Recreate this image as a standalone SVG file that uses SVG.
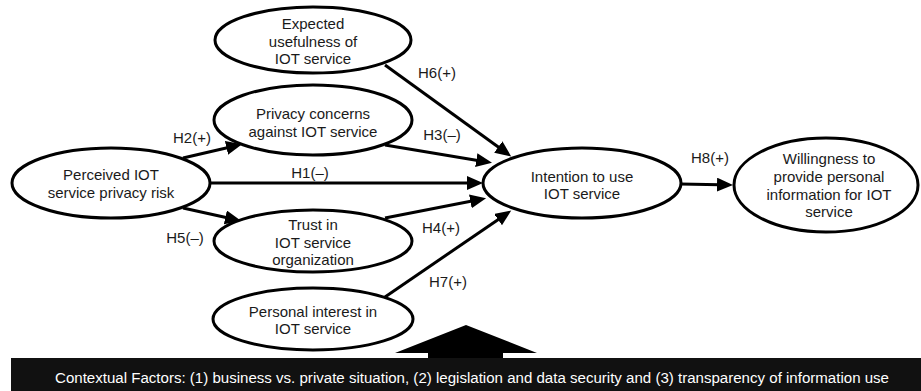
<svg xmlns="http://www.w3.org/2000/svg" width="921" height="391" viewBox="0 0 921 391">
<style>
.n ellipse{fill:#fff;stroke:#000;stroke-width:3}
text{font-family:"Liberation Sans",Arial,sans-serif;font-size:15px;fill:#1a1a1a;text-anchor:middle}
.c line{stroke:#000;stroke-width:3;marker-end:url(#ah)}
.ctx{fill:#fff;font-size:14px}
</style>
<defs>
<marker id="ah" markerUnits="userSpaceOnUse" markerWidth="17" markerHeight="15" refX="3" refY="7" orient="auto">
<path d="M0,0 L16,7 L0,14 z" fill="#000"/>
</marker>
</defs>
<rect width="921" height="391" fill="#fff"/>
<g class="c" id="connectors">
<line x1="385" y1="65" x2="500.7" y2="148.8"/>
<line x1="385" y1="145" x2="479.2" y2="160.7"/>
<line x1="210" y1="183" x2="470" y2="183"/>
<line x1="385" y1="218" x2="473.3" y2="200.7"/>
<line x1="385" y1="297" x2="500.5" y2="217.9"/>
<line x1="183" y1="158" x2="229.4" y2="147.2"/>
<line x1="183" y1="208" x2="228.3" y2="218"/>
<line x1="680" y1="184" x2="720" y2="184.7"/>
<text x="437" y="78">H6(+)</text>
<text x="442" y="140">H3(–)</text>
<text x="310" y="178">H1(–)</text>
<text x="192" y="143">H2(+)</text>
<text x="185" y="243">H5(–)</text>
<text x="441" y="233">H4(+)</text>
<text x="448" y="287">H7(+)</text>
<text x="710" y="163">H8(+)</text>
</g>
<g class="n" id="expected">
<ellipse cx="313" cy="40" rx="98" ry="33"/>
<text x="313" y="29">Expected</text>
<text x="313" y="47">usefulness of</text>
<text x="313" y="64">IOT service</text>
</g>
<g class="n" id="privacy">
<ellipse cx="313" cy="120" rx="99" ry="35"/>
<text x="313" y="119">Privacy concerns</text>
<text x="313" y="137">against IOT service</text>
</g>
<g class="n" id="perceived">
<ellipse cx="111" cy="183" rx="99" ry="35"/>
<text x="111" y="180">Perceived IOT</text>
<text x="111" y="198">service privacy risk</text>
</g>
<g class="n" id="trust">
<ellipse cx="313" cy="241" rx="99" ry="31"/>
<text x="313" y="230">Trust in</text>
<text x="313" y="247.5">IOT service</text>
<text x="313" y="265">organization</text>
</g>
<g class="n" id="personal">
<ellipse cx="313" cy="319" rx="100" ry="31"/>
<text x="313" y="317">Personal interest in</text>
<text x="313" y="334">IOT service</text>
</g>
<g class="n" id="intention">
<ellipse cx="582" cy="183" rx="99" ry="35"/>
<text x="582" y="182">Intention to use</text>
<text x="582" y="199">IOT service</text>
</g>
<g class="n" id="willingness">
<ellipse cx="826" cy="185" rx="92" ry="47"/>
<text x="829" y="164">Willingness to</text>
<text x="829" y="182">provide personal</text>
<text x="829" y="199.5">information for IOT</text>
<text x="829" y="217">service</text>
</g>
<g id="context">
<polygon points="466,325 537,353 503,353 503,359 428,359 428,353 395,353" fill="#000"/>
<rect x="11" y="358" width="910" height="33" fill="#111"/>
<text class="ctx" x="472" y="383" textLength="834" lengthAdjust="spacingAndGlyphs">Contextual Factors: (1) business vs. private situation, (2) legislation and data security and (3) transparency of information use</text>
</g>
</svg>
